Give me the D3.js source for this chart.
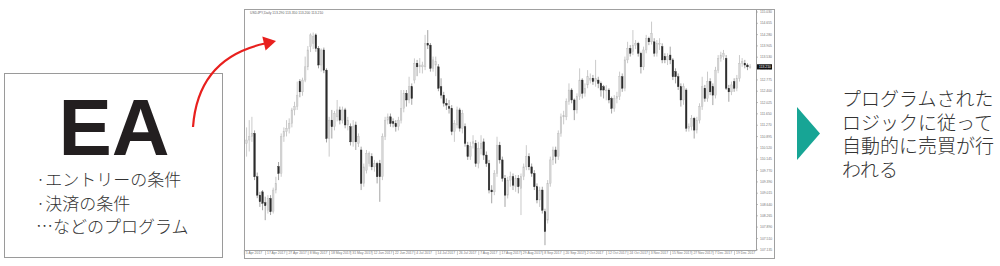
<!DOCTYPE html>
<html>
<head>
<meta charset="utf-8">
<script src="https://cdn.jsdelivr.net/npm/d3@7"></script>
<style>
html,body{margin:0;padding:0;background:#fff;}
svg{display:block;}
</style>
</head>
<body>
<svg id="c" width="1000" height="266"></svg>
<script>
// ---------- data ----------
const symbolTitle = "USDJPY,Daily  113.290 113.350 113.200 113.210";
const dateLabels = ["5 Apr 2017","17 Apr 2017","27 Apr 2017","8 May 2017","18 May 2017","31 May 2017","12 Jun 2017","22 Jun 2017","4 Jul 2017","14 Jul 2017","26 Jul 2017","7 Aug 2017","17 Aug 2017","29 Aug 2017","8 Sep 2017","20 Sep 2017","2 Oct 2017","12 Oct 2017","24 Oct 2017","3 Nov 2017","15 Nov 2017","27 Nov 2017","7 Dec 2017","19 Dec 2017"];
const dateLabelBars = [0,8,16,24,32,40,48,56,64,72,80,88,96,104,112,120,128,136,144,152,160,168,176,184];
const priceTicks = [115.030,114.655,114.280,113.905,113.530,113.150,112.775,112.400,112.025,111.650,111.270,110.895,110.520,110.145,109.770,109.390,109.015,108.640,108.265,107.890,107.510,107.135];

const open = [110.67,110.78,110.89,111.00,109.56,108.95,109.06,108.70,108.45,108.84,108.40,109.12,109.90,109.67,110.89,111.06,111.17,111.33,111.78,111.89,
112.72,112.38,112.77,113.21,113.88,113.99,114.27,113.82,113.27,113.77,113.10,110.83,111.44,111.22,111.55,111.78,111.44,111.78,111.28,111.22,
110.72,111.28,110.67,110.45,109.34,109.78,110.00,110.23,109.89,110.00,110.00,109.56,110.89,111.44,111.55,111.39,111.33,111.22,111.44,111.83,
112.33,112.11,112.55,112.77,113.33,113.21,113.21,113.21,113.99,113.93,113.16,113.27,113.21,112.55,112.27,112.00,111.89,111.83,111.06,111.28,
111.78,111.17,111.22,110.61,110.23,110.67,110.67,110.00,110.50,110.72,110.28,110.00,109.12,109.06,109.67,110.61,110.12,109.51,108.95,109.45,
109.56,109.23,109.51,109.17,109.56,109.89,110.23,109.89,109.67,109.23,108.79,109.12,108.40,108.12,109.34,110.12,110.45,110.23,111.00,111.55,
111.55,112.05,112.44,112.11,111.78,112.22,112.77,112.33,112.61,112.77,112.83,112.72,112.77,112.66,112.55,112.44,112.44,112.16,111.83,112.16,
112.22,112.88,112.50,113.44,113.82,113.71,113.93,113.99,113.66,113.21,113.77,114.16,114.04,114.04,113.66,113.99,113.88,113.55,113.44,113.60,
113.44,113.05,112.88,112.55,112.11,112.44,111.17,111.22,111.50,111.11,111.44,111.89,112.50,112.16,112.72,112.55,112.27,113.10,113.49,113.55,
113.49,112.50,112.38,112.72,112.50,112.83,113.33,113.33,113.27,113.21];
const high = [111.20,111.44,111.55,111.10,109.70,109.06,109.12,108.90,108.95,108.95,109.20,109.56,110.05,111.00,111.20,111.44,111.50,111.85,112.05,112.72,
112.80,112.85,113.55,113.90,114.32,114.35,114.32,113.90,113.82,113.85,113.16,111.55,111.78,111.75,112.11,111.89,111.89,111.85,111.55,111.33,
111.44,111.39,111.00,110.56,110.00,110.45,110.40,110.34,110.12,110.06,110.12,111.00,111.55,111.66,111.66,111.50,111.44,111.55,112.44,112.44,
112.44,112.88,112.66,113.49,113.44,113.50,113.38,114.27,114.43,114.00,113.55,113.55,113.30,112.83,112.38,112.16,112.11,111.94,111.44,111.89,
111.85,111.78,111.33,110.72,110.72,110.94,110.78,110.72,110.94,110.83,110.40,110.12,109.28,109.78,110.89,110.72,110.23,109.62,109.56,109.73,
109.67,109.62,109.62,109.67,110.00,110.61,110.34,110.00,109.78,109.34,109.23,109.23,108.50,109.45,110.23,110.56,110.56,111.10,111.66,111.75,
112.16,112.66,112.50,112.16,112.33,113.16,112.83,112.66,113.10,112.99,112.94,113.44,112.88,112.72,112.61,112.60,112.50,112.22,112.27,112.38,
113.05,112.99,113.55,114.04,113.93,114.43,114.10,114.04,113.71,113.88,114.27,114.21,114.71,114.16,114.10,114.16,113.99,113.66,113.66,113.88,
113.50,113.16,112.99,112.66,112.66,112.50,111.33,111.61,111.55,111.55,112.00,112.88,112.61,113.05,112.83,112.66,113.21,113.60,113.71,113.77,
113.60,112.61,112.72,112.83,112.94,113.60,113.50,113.44,113.33,113.30];
const low = [110.23,110.40,110.72,109.45,108.85,108.56,108.45,108.12,108.34,108.29,108.34,109.01,109.45,109.56,110.72,110.90,111.00,111.20,111.60,111.78,
112.20,112.25,112.70,113.10,113.70,113.80,113.71,113.16,113.05,113.00,110.70,110.23,110.83,111.10,111.40,111.30,111.33,111.17,111.10,110.60,
110.56,110.45,110.55,109.12,109.23,109.67,109.90,109.78,109.73,109.34,108.73,109.45,110.78,111.30,111.22,111.20,111.06,111.10,111.33,111.70,
111.89,112.00,111.95,112.66,112.90,113.00,112.99,113.10,113.80,113.05,113.05,112.90,112.40,112.16,111.89,111.78,111.66,110.94,110.72,111.17,
111.06,111.00,110.56,110.12,110.12,110.50,109.89,109.84,110.30,110.12,109.89,109.01,108.68,108.95,109.56,110.00,109.40,108.56,108.84,109.23,
109.12,109.06,109.01,108.29,109.45,109.78,109.78,109.56,109.12,108.68,108.56,108.34,107.29,108.01,109.23,109.95,110.00,110.12,110.89,111.30,
111.44,111.95,112.00,111.44,111.66,112.11,112.16,112.22,112.50,112.66,112.61,112.55,112.50,112.22,112.16,112.10,112.00,111.66,111.72,112.00,
112.11,112.38,112.40,113.33,113.55,113.60,113.80,113.55,112.99,113.10,113.66,113.93,113.95,113.55,113.55,113.77,113.33,113.33,113.27,113.30,
112.77,112.66,112.44,111.89,111.95,111.06,111.06,111.10,110.83,111.00,111.33,111.78,112.05,112.05,112.27,111.94,112.16,113.00,113.38,113.44,
112.44,112.05,112.27,112.38,112.40,112.72,113.21,113.16,113.10,113.15];
const close = [110.78,110.89,111.00,109.56,108.95,108.73,108.68,108.60,108.84,108.40,109.12,109.34,109.67,110.89,111.06,111.17,111.33,111.78,111.89,112.27,
112.38,112.77,113.21,113.77,114.27,114.21,113.82,113.27,113.77,113.10,110.83,111.44,111.22,111.66,111.78,111.44,111.78,111.28,111.44,110.72,
111.22,110.72,110.89,109.34,109.89,110.34,110.34,109.89,110.00,109.56,109.56,110.89,111.44,111.55,111.33,111.33,111.22,111.44,111.83,112.33,
112.11,112.55,112.16,113.33,113.21,113.27,113.27,113.99,113.93,113.16,113.44,113.38,112.50,112.27,112.00,111.94,111.83,111.06,111.33,111.78,
111.17,111.66,110.67,110.23,110.56,110.72,110.00,110.50,110.67,110.28,110.00,109.12,109.06,109.67,110.61,110.12,109.51,108.95,109.45,109.56,
109.28,109.51,109.23,109.56,109.89,110.23,109.89,109.67,109.23,108.79,109.12,108.45,107.74,109.34,110.12,110.45,110.23,111.00,111.55,111.60,
112.05,112.44,112.11,111.78,112.22,112.77,112.33,112.50,112.88,112.83,112.72,112.83,112.66,112.44,112.44,112.44,112.11,111.83,112.16,112.22,
112.88,112.50,113.44,113.82,113.66,113.93,113.99,113.66,113.21,113.77,114.16,114.04,114.32,113.66,113.99,113.99,113.44,113.44,113.55,113.44,
112.88,112.88,112.55,112.11,112.55,111.17,111.22,111.50,111.11,111.44,111.89,112.55,112.16,112.72,112.38,112.27,113.10,113.49,113.60,113.66,
112.50,112.38,112.61,112.50,112.83,113.33,113.38,113.27,113.21,113.21];

const boxTitle = "EA";
const bulletLines = ["·エントリーの条件","·決済の条件","…などのプログラム"];
const rightLines = ["プログラムされた","ロジックに従って","自動的に売買が行","われる"];

// ---------- drawing ----------
const svg = d3.select("#c");
const bars = d3.range(close.length).map(i => ({i, o: open[i], h: high[i], l: low[i], c: close[i]}));
const tinyFont = "'Liberation Sans', Arial, sans-serif";
const tinySize = 3.4;

// left box
svg.append("rect").attr("x",4.5).attr("y",73.5).attr("width",218).attr("height",184)
  .attr("fill","#fff").attr("stroke","#9a9a9a").attr("stroke-width",1);
const boxText = svg.append("text").attr("fill","#333");
boxText.append("tspan").attr("x",114).attr("y",155).attr("text-anchor","middle")
  .attr("font-family","'Liberation Sans', Arial, sans-serif").attr("font-weight","bold")
  .attr("font-size",80).attr("fill","#231f20").text(boxTitle);
bulletLines.forEach((d,k) => {
  boxText.append("tspan").attr("x",36).attr("y",186 + k*23.5).attr("text-anchor","start")
    .attr("font-family","'Noto Sans CJK JP', sans-serif").attr("font-weight",300)
    .attr("font-size",17).text(d);
});

// chart frame
const px0 = 244, px1 = 756, py0 = 9, py1 = 250;
svg.append("rect").attr("x",px0+0.5).attr("y",py0+0.5).attr("width",774-px0).attr("height",258-py0)
  .attr("fill","#fff").attr("stroke","#a0a0a0");
svg.append("line").attr("x1",px1+0.5).attr("x2",px1+0.5).attr("y1",py0).attr("y2",py1+0.5).attr("stroke","#a0a0a0");
svg.append("line").attr("x1",px0).attr("x2",px1+0.5).attr("y1",py1+0.5).attr("y2",py1+0.5).attr("stroke","#a0a0a0");

const x = d3.scaleBand().domain(d3.range(bars.length)).range([244.7, 752]).padding(0.4);
const y = d3.scaleLinear().domain([107.13, 115.03]).range([250, 12]);

// candles
const g = svg.append("g");
g.selectAll("line.w").data(bars).join("line").attr("class","w")
  .attr("x1",d=>x(d.i)+x.bandwidth()/2).attr("x2",d=>x(d.i)+x.bandwidth()/2)
  .attr("y1",d=>y(d.h)).attr("y2",d=>y(d.l))
  .attr("stroke",d=>d.c>=d.o?"#c4c4c4":"#9a9a9a").attr("stroke-width",0.9);
g.selectAll("rect.b").data(bars).join("rect").attr("class","b")
  .attr("x",d=>x(d.i)).attr("width",x.bandwidth())
  .attr("y",d=>y(Math.max(d.o,d.c)))
  .attr("height",d=>Math.max(0.8, Math.abs(y(d.o)-y(d.c))))
  .attr("fill",d=>d.c>=d.o?"#d6d6d6":"#2b2b2b")
  .attr("stroke",d=>d.c>=d.o?"#bdbdbd":"#2b2b2b").attr("stroke-width",0.4);

// price axis
const yAxis = svg.append("g");
yAxis.selectAll("line").data(priceTicks).join("line")
  .attr("x1",px1).attr("x2",px1+2).attr("y1",d=>y(d)).attr("y2",d=>y(d)).attr("stroke","#999").attr("stroke-width",0.6);
yAxis.selectAll("text").data(priceTicks).join("text")
  .attr("x",px1+4).attr("y",d=>y(d)+1.2)
  .attr("font-family",tinyFont).attr("font-size",tinySize).attr("fill","#777")
  .text(d=>d.toFixed(3));
const last = close[close.length-1];
svg.append("rect").attr("x",px1+1).attr("y",y(last)-2.6).attr("width",15).attr("height",5.2).attr("fill","#111");
svg.append("text").attr("x",px1+3).attr("y",y(last)+1.2)
  .attr("font-family",tinyFont).attr("font-size",tinySize).attr("fill","#fff")
  .text(last.toFixed(3));

// date axis
const xAxis = svg.append("g");
xAxis.selectAll("line").data(dateLabelBars).join("line")
  .attr("x1",d=>x(d)-1.5).attr("x2",d=>x(d)-1.5).attr("y1",py1).attr("y2",py1+5).attr("stroke","#aaa").attr("stroke-width",0.6);
xAxis.selectAll("text").data(dateLabels).join("text")
  .attr("x",(d,k)=>x(dateLabelBars[k])).attr("y",py1+4.2)
  .attr("font-family",tinyFont).attr("font-size",tinySize).attr("fill","#777")
  .text(d=>d);

// title
svg.append("text").attr("x",250).attr("y",13.5)
  .attr("font-family",tinyFont).attr("font-size",tinySize).attr("fill","#666")
  .text(symbolTitle);

// red arrow (drawn on top of chart)
svg.append("path").attr("d","M193,127 Q198,58 265,43.5")
  .attr("fill","none").attr("stroke","#e8201e").attr("stroke-width",2.2);
svg.append("path").attr("d","M262.3,36.6 L265.6,50.6 L276,41 Z").attr("fill","#e8201e");

// teal triangle
svg.append("path").attr("d","M797,107 L797,160 L820,133.5 Z").attr("fill","#17a595");

// right text (one paragraph, one line per tspan)
const rText = svg.append("text")
  .attr("font-family","'Noto Sans CJK JP', sans-serif").attr("font-weight",300)
  .attr("font-size",19).attr("fill","#333");
rText.selectAll("tspan").data(rightLines).join("tspan")
  .attr("x",842).attr("y",(d,k)=>106 + k*23.5).text(d=>d);
</script>
</body>
</html>
